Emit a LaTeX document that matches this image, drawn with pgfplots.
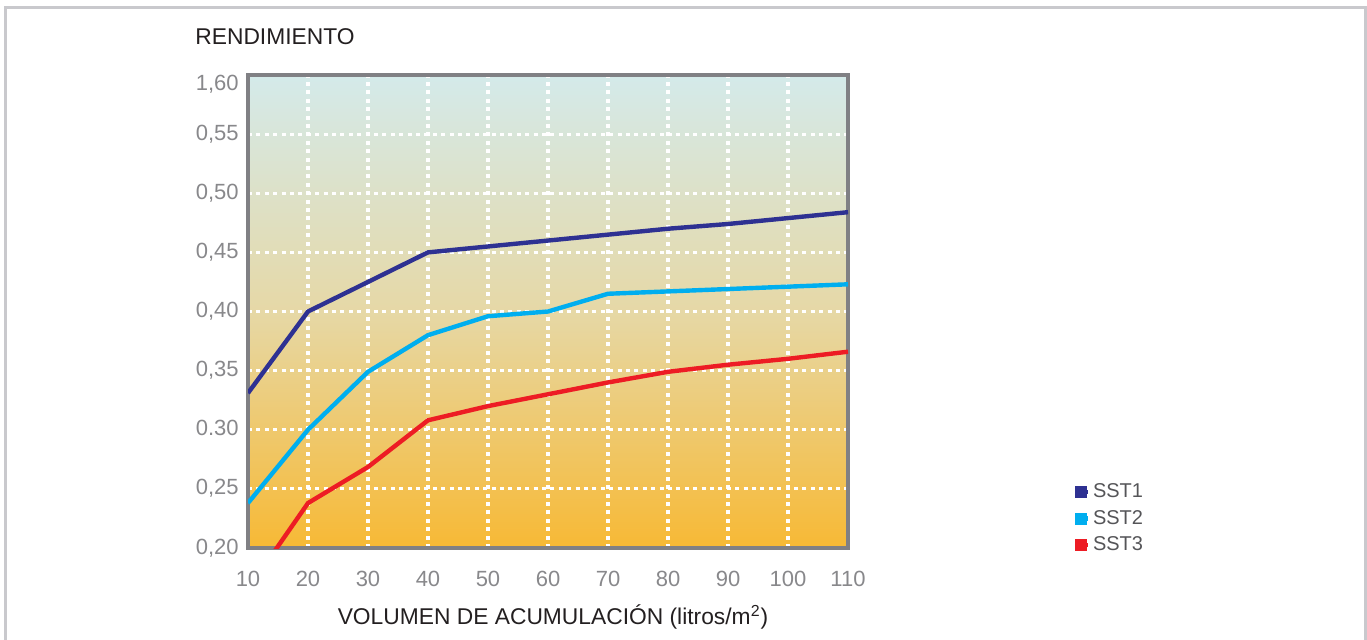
\documentclass[border=0pt]{standalone}
\usepackage{fontspec}
\setmainfont{Liberation Sans}
\usepackage{pgfplots}
\pgfplotsset{compat=1.18}
\definecolor{sstA}{HTML}{2E3192}
\definecolor{sstB}{HTML}{00AEEF}
\definecolor{sstC}{HTML}{ED1C24}
\definecolor{tickgray}{HTML}{88888B}
\definecolor{framegray}{HTML}{808084}
\definecolor{outergray}{HTML}{C9C9CD}
\definecolor{bgtop}{HTML}{D4EAEA}
\definecolor{bgmid}{HTML}{E6D8A6}
\definecolor{bgbot}{HTML}{F7B935}
\definecolor{titlecol}{HTML}{231F20}
\definecolor{legcol}{HTML}{555558}
\begin{document}
\begin{tikzpicture}
\useasboundingbox (0pt,0pt) rectangle (683.5pt,319.5pt);
\draw[outergray, line width=1.3pt] (2.75pt,-5pt) -- (2.75pt,315.75pt) -- (682.6pt,315.75pt) -- (682.6pt,-5pt);
\begin{axis}[
  at={(124pt,45.5pt)}, anchor=south west,
  scale only axis, width=300pt, height=236.5pt,
  xmin=10, xmax=110, ymin=0.20, ymax=0.60,
  xtick={10,20,...,110},
  ytick={0.20,0.25,0.30,0.35,0.40,0.45,0.50,0.55,0.60},
  yticklabels={{0,20},{0,25},{0.30},{0,35},{0,40},{0,45},{0,50},{0,55},{\smash{\raisebox{-4.5pt}{1,60}}}},
  major tick length=0pt,
  /pgf/number format/assume math mode=true,
  ticklabel style={font=\fontsize{11}{13}\selectfont, text=tickgray},
  xticklabel style={anchor=base, yshift=-19pt, inner sep=0pt},
  yticklabel style={anchor=east, xshift=-4.5pt, inner sep=0pt, text height=8pt, text depth=2pt},
  axis line style={framegray, line width=2pt},
  grid=major,
  major grid style={white, line width=1.6pt, dash pattern=on 2pt off 2.2pt},
  axis background/.style={top color=bgtop, bottom color=bgbot, middle color=bgmid},
  clip=true,
  legend cell align=left,
  legend image code/.code={\fill[#1] (0pt,-1.9pt) rectangle (3.8pt,1.9pt); \path (0pt,0pt) -- (5.5pt,0pt);},
  legend style={draw=none, fill=none, at={(1.367,0.152)}, anchor=north west,
    font=\fontsize{10}{12}\selectfont, text=legcol, row sep=1.8pt,
    nodes={inner sep=1.5pt}},
]
\addplot[sstA, line width=2.2pt] coordinates {
 (10,0.331) (20,0.400) (30,0.425) (40,0.450) (50,0.455) (60,0.460) (70,0.465) (80,0.470) (90,0.474) (100,0.479) (110,0.484)};
\addlegendentry{SST1}
\addplot[sstB, line width=2.2pt] coordinates {
 (10,0.238) (20,0.300) (30,0.349) (40,0.380) (50,0.396) (60,0.400) (70,0.415) (80,0.417) (90,0.419) (100,0.421) (110,0.423)};
\addlegendentry{SST2}
\addplot[sstC, line width=2.2pt] coordinates {
 (10,0.165) (20,0.238) (30,0.2685) (40,0.308) (50,0.320) (60,0.330) (70,0.340) (80,0.349) (90,0.355) (100,0.360) (110,0.366)};
\addlegendentry{SST3}
\end{axis}
\node[anchor=base west, inner sep=0pt, text=titlecol, font=\fontsize{11.4}{13}\selectfont] at (97.5pt,297.5pt) {RENDIMIENTO};
\node[anchor=base, inner sep=0pt, text=titlecol, font=\fontsize{11.4}{13}\selectfont] at (276.5pt,7.5pt) {VOLUMEN DE ACUMULACIÓN (litros/m\textsuperscript{2})};
\end{tikzpicture}
\end{document}
